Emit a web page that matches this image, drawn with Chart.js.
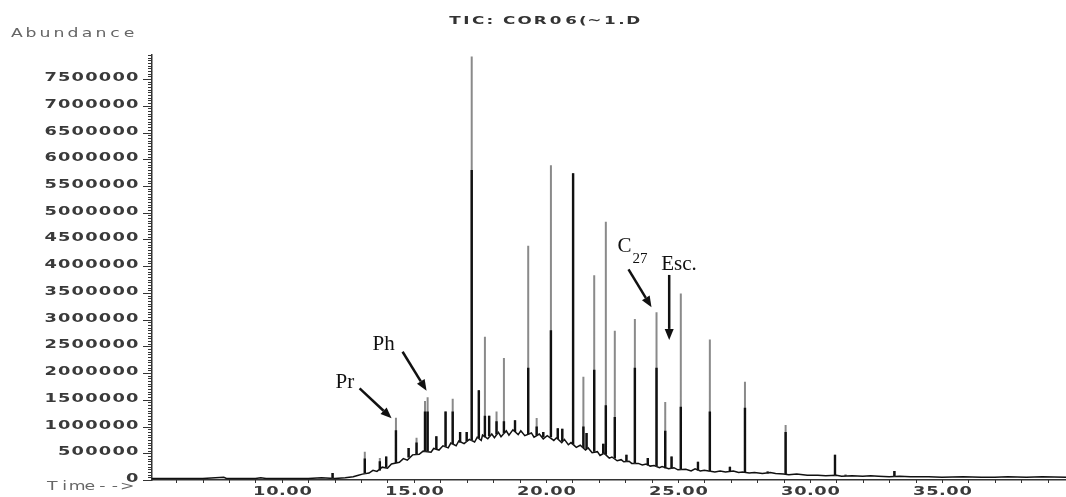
<!DOCTYPE html>
<html>
<head>
<meta charset="utf-8">
<script src="https://cdn.jsdelivr.net/npm/chart.js@4.4.1/dist/chart.umd.min.js"></script>
<style>
	html, body { margin: 0; padding: 0; background: #fff; }
	canvas { display: block; }
</style>
</head>
<body>
<canvas id="myChart" width="1066" height="497"></canvas>
<script>
// Total ion chromatogram, retention time in minutes
let traceTimes = [5.08, 6.0, 7.0, 7.8, 7.9, 8.0, 9.0, 9.2, 9.4, 10.0, 11.0, 11.5, 12.0, 12.4, 12.7, 12.9, 13.05, 13.3, 13.45, 13.6,
	13.8, 14.0, 14.15, 14.45, 14.6, 14.75, 14.95, 15.2, 15.35, 15.65, 15.75, 15.95, 16.1, 16.3, 16.4, 16.6, 16.7, 16.9, 17.1, 17.3,
	17.4, 17.55, 17.6, 17.8, 17.95, 18.05, 18.2, 18.3, 18.5, 18.6, 18.75, 18.95, 19.05, 19.2, 19.45, 19.55, 19.75, 19.9, 20.05, 20.3,
	20.4, 20.6, 20.7, 20.85, 20.95, 21.15, 21.3, 21.5, 21.6, 21.75, 21.95, 22.05, 22.2, 22.4, 22.5, 22.7, 22.85, 22.95, 23.15, 23.25,
	23.5, 23.65, 23.8, 23.95, 24.1, 24.3, 24.4, 24.65, 24.85, 25.0, 25.3, 25.5, 25.65, 25.85, 26.0, 26.4, 26.6, 26.8, 27.1, 27.3,
	27.45, 27.7, 27.9, 28.2, 28.5, 28.7, 29.0, 29.2, 29.5, 29.9, 30.3, 30.6, 31.0, 31.2, 31.6, 32.0, 32.3, 32.6, 33.0, 33.4,
	33.8, 34.5, 35.0, 35.8, 36.5, 37.0, 37.5, 38.2, 38.8, 39.7];
let traceValues = [30000, 30000, 30000, 50000, 30000, 30000, 30000, 40000, 30000, 30000, 30000, 40000, 30000, 40000, 60000, 90000, 110000, 130000, 180000, 160000,
	240000, 220000, 300000, 330000, 400000, 370000, 470000, 480000, 540000, 520000, 590000, 560000, 640000, 600000, 690000, 640000, 730000, 680000, 760000, 710000,
	800000, 740000, 840000, 770000, 860000, 790000, 890000, 810000, 920000, 840000, 940000, 850000, 920000, 830000, 880000, 800000, 860000, 770000, 830000, 740000,
	790000, 700000, 760000, 660000, 700000, 610000, 650000, 560000, 600000, 510000, 530000, 460000, 500000, 410000, 430000, 360000, 380000, 340000, 350000, 310000,
	310000, 280000, 300000, 260000, 270000, 230000, 250000, 210000, 230000, 190000, 200000, 170000, 210000, 170000, 180000, 150000, 170000, 150000, 170000, 140000,
	150000, 130000, 140000, 120000, 140000, 120000, 110000, 100000, 110000, 90000, 90000, 80000, 90000, 70000, 80000, 70000, 80000, 70000, 60000, 70000,
	60000, 60000, 50000, 60000, 50000, 50000, 60000, 50000, 60000, 50000];

// Resolved peaks: apex, height of the dark lower part, and level of the hump underneath
let peakTimes = [11.92, 13.14, 13.71, 13.95, 14.32, 14.80, 15.10, 15.42, 15.52, 15.85, 16.20, 16.47, 16.75, 17.00, 17.19, 17.46,
	17.69, 17.85, 18.13, 18.41, 18.83, 19.33, 19.65, 19.90, 20.19, 20.45, 20.62, 21.03, 21.42, 21.54, 21.83, 22.17, 22.27, 22.61,
	23.05, 23.37, 23.86, 24.19, 24.52, 24.76, 25.11, 25.76, 26.21, 26.97, 27.54, 28.40, 29.08, 30.95, 31.35, 33.20];
let peakHeights = [130000, 530000, 410000, 440000, 1165000, 600000, 790000, 1480000, 1550000, 820000, 1280000, 1520000, 900000, 900000, 7920000, 1680000,
	2680000, 1200000, 1280000, 2280000, 1120000, 4380000, 1160000, 900000, 5890000, 970000, 960000, 5740000, 1930000, 880000, 3830000, 680000, 4830000, 2790000,
	470000, 3010000, 410000, 3140000, 1460000, 440000, 3490000, 340000, 2630000, 250000, 1840000, 160000, 1030000, 470000, 100000, 170000];
let peakDark = [130000, 400000, 350000, 440000, 930000, 600000, 700000, 1280000, 1280000, 820000, 1280000, 1280000, 900000, 900000, 5800000, 1680000,
	1200000, 1200000, 1100000, 1100000, 1120000, 2100000, 1000000, 900000, 2800000, 970000, 960000, 5740000, 1000000, 880000, 2060000, 680000, 1400000, 1180000,
	470000, 2100000, 410000, 2100000, 920000, 440000, 1370000, 340000, 1280000, 250000, 1350000, 160000, 900000, 470000, 100000, 170000];
let peakBases = [30000, 120000, 180000, 230000, 320000, 420000, 480000, 530000, 530000, 580000, 620000, 670000, 700000, 720000, 740000, 780000,
	800000, 820000, 850000, 870000, 900000, 860000, 840000, 800000, 800000, 760000, 730000, 660000, 600000, 580000, 530000, 490000, 470000, 400000,
	350000, 310000, 270000, 250000, 220000, 210000, 190000, 180000, 160000, 150000, 130000, 120000, 110000, 90000, 80000, 70000];

let xTickLabels = ['10.00', '15.00', '20.00', '25.00', '30.00', '35.00'];

// Marked compounds: arrow tip in data units, then pixel offsets for tail and text
let marks = [
	{ text: 'Pr', sub: '', t: 14.155, v: 1154000, tail: [-32, -30], at: [-56, -30] },
	{ text: 'Ph', sub: '', t: 15.48, v: 1670000, tail: [-24, -39], at: [-54, -41] },
	{ text: 'C', sub: '27', t: 24.0, v: 3230000, tail: [-23, -38], at: [-34, -55] },
	{ text: 'Esc.', sub: '', t: 24.67, v: 2620000, tail: [0, -65], at: [-8, -70] },
];

let tracePoints = traceTimes.map((t, i) => ({ x: t, y: traceValues[i] }));

// each peak is a vertical stroke, broken from the next one by a null point
let greyStrokes = [];
let darkStrokes = [];
peakTimes.forEach((t, i) => {
	greyStrokes.push({ x: t, y: peakBases[i] }, { x: t, y: peakHeights[i] }, { x: t, y: null });
	darkStrokes.push({ x: t, y: peakBases[i] }, { x: t, y: peakDark[i] }, { x: t, y: null });
});

// plotter style lettering: every glyph stretched and centred in its own cell,
// punctuation and thin letters get half a cell
let thinChars = ' :.(I';
function cellText(ctx, text, x, y, align, cell, sx) {
	let chars = [...text];
	let cells = chars.map((ch) => (thinChars.includes(ch) ? cell * 0.5 : cell));
	let total = cells.reduce((a, b) => a + b, 0);
	let left = align === 'right' ? x - total : align === 'center' ? x - total / 2 : x;
	chars.forEach((ch, i) => {
		let w = ctx.measureText(ch).width * sx;
		ctx.save();
		ctx.translate(left + (cells[i] - w) / 2, y);
		ctx.scale(sx, 1);
		ctx.fillText(ch, 0, 0);
		ctx.restore();
		left += cells[i];
	});
}

function arrow(ctx, x1, y1, x2, y2) {
	let a = Math.atan2(y2 - y1, x2 - x1);
	let len = 11;
	let bx = x2 - len * Math.cos(a);
	let by = y2 - len * Math.sin(a);
	ctx.beginPath();
	ctx.moveTo(x1, y1);
	ctx.lineTo(bx, by);
	ctx.stroke();
	ctx.beginPath();
	ctx.moveTo(x2, y2);
	ctx.lineTo(bx + 4.5 * Math.sin(a), by - 4.5 * Math.cos(a));
	ctx.lineTo(bx - 4.5 * Math.sin(a), by + 4.5 * Math.cos(a));
	ctx.closePath();
	ctx.fill();
}

let inkPlugin = {
	id: 'ink',
	afterDraw(chart) {
		let ctx = chart.ctx;
		let xs = chart.scales.x;
		let ys = chart.scales.y;
		ctx.save();
		ctx.textBaseline = 'middle';
		ctx.textAlign = 'left';
		ctx.strokeStyle = '#333';
		ctx.lineWidth = 1;

		// abundance ticks, labelled every 500000
		ctx.font = 'bold 11.5px "DejaVu Sans"';
		ctx.fillStyle = '#3a3a3a';
		ys.ticks.forEach((tick) => {
			let y = Math.round(ys.getPixelForValue(tick.value)) + 0.5;
			let major = Math.round(tick.value / 50000) % 10 === 0;
			ctx.beginPath();
			ctx.moveTo(ys.right - (major ? 9 : 4), y);
			ctx.lineTo(ys.right, y);
			ctx.stroke();
			if (major) cellText(ctx, String(tick.value), ys.right - 13, y - 1.5, 'right', 13.6, 1.55);
		});

		// time ticks every minute
		xs.ticks.forEach((tick) => {
			let x = Math.round(xs.getPixelForValue(tick.value)) + 0.5;
			ctx.beginPath();
			ctx.moveTo(x, xs.top);
			ctx.lineTo(x, xs.top + 3);
			ctx.stroke();
			let label = tick.value.toFixed(2);
			if (xTickLabels.includes(label)) cellText(ctx, label, x, xs.top + 12.5, 'center', 13.3, 1.55);
		});

		ctx.font = '11.5px "DejaVu Sans"';
		ctx.fillStyle = '#666';
		cellText(ctx, 'Abundance', 10, 34, 'left', 14, 1.5);
		cellText(ctx, 'Time-->', 46, 487, 'left', 12.5, 1.5);
		ctx.font = 'bold 10.5px "DejaVu Sans"';
		ctx.fillStyle = '#333';
		cellText(ctx, 'TIC: COR06(~1.D', 544, 21, 'center', 15.5, 1.6);

		// compound marks
		ctx.fillStyle = '#111';
		ctx.strokeStyle = '#111';
		ctx.lineWidth = 2.5;
		ctx.textBaseline = 'alphabetic';
		marks.forEach((m) => {
			let x = xs.getPixelForValue(m.t);
			let y = ys.getPixelForValue(m.v);
			arrow(ctx, x + m.tail[0], y + m.tail[1], x, y);
			ctx.font = '21px "Liberation Serif"';
			ctx.fillText(m.text, x + m.at[0], y + m.at[1]);
			if (m.sub) {
				let w = ctx.measureText(m.text).width;
				ctx.font = '15px "Liberation Serif"';
				ctx.fillText(m.sub, x + m.at[0] + w + 1, y + m.at[1] + 11);
			}
		});
		ctx.restore();
	},
};

let ctx = document.getElementById('myChart').getContext('2d');

new Chart(ctx, {
	type: 'line',
	data: {
		datasets: [
			{
				label: 'peaks (dark)',
				data: darkStrokes,
				borderColor: '#111',
				borderWidth: 2.4,
				pointRadius: 0,
				spanGaps: false,
				order: 0,
			},
			{
				label: 'peaks',
				data: greyStrokes,
				borderColor: '#8a8a8a',
				borderWidth: 2,
				pointRadius: 0,
				spanGaps: false,
				order: 1,
			},
			{
				label: 'TIC',
				data: tracePoints,
				borderColor: '#111',
				borderWidth: 1.5,
				pointRadius: 0,
				tension: 0,
				order: 2,
			},
		],
	},
	options: {
		responsive: false,
		animation: false,
		events: [],
		layout: { padding: { top: 55, left: 0, right: 0, bottom: 0 } },
		plugins: {
			legend: { display: false },
			tooltip: { enabled: false },
		},
		scales: {
			x: {
				type: 'linear',
				min: 5.08,
				max: 39.7,
				grid: { display: false },
				border: { display: true, color: '#333', width: 1.5 },
				ticks: { display: false, stepSize: 1, includeBounds: false },
				afterFit: (scale) => { scale.height = 17; },
			},
			y: {
				min: 0,
				max: 7950000,
				grid: { display: false },
				border: { display: true, color: '#333', width: 1.5 },
				ticks: { display: false, stepSize: 50000, includeBounds: false },
				afterFit: (scale) => { scale.width = 152; },
			},
		},
	},
	plugins: [inkPlugin],
});
</script>
</body>
</html>
